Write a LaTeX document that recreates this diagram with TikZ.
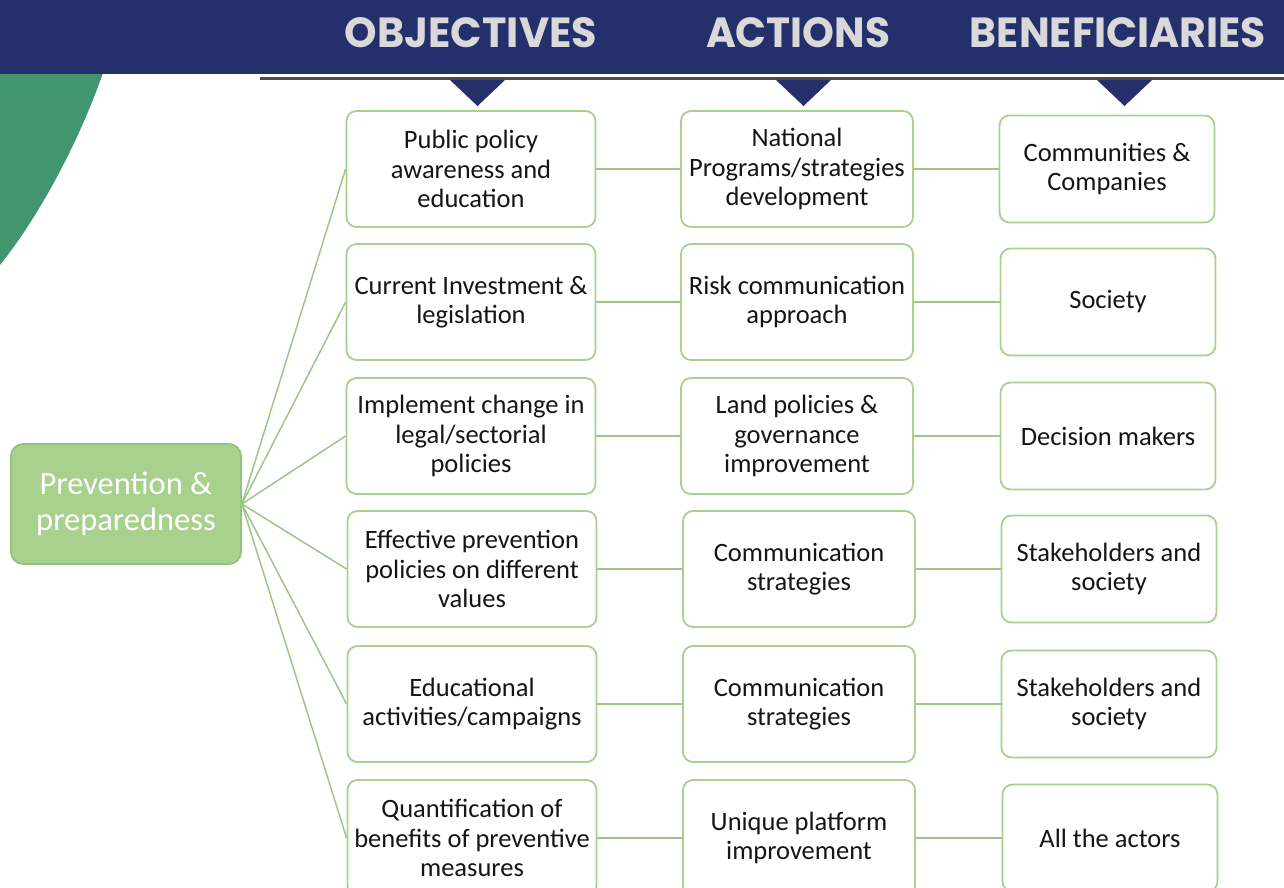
\documentclass[tikz,border=0pt]{standalone}
\usepackage{fontspec}
\setmainfont{Carlito}
\newfontfamily\hdrfont{Poppins}
\definecolor{navy}{HTML}{252F6B}
\definecolor{leaf}{HTML}{42966F}
\definecolor{boxline}{HTML}{A9D18E}
\definecolor{conn}{HTML}{9CC789}
\definecolor{rootfill}{HTML}{A9D18E}
\definecolor{rootline}{HTML}{93C47D}
\definecolor{hdrtext}{HTML}{D9D9D9}
\definecolor{rulegray}{HTML}{4D4D4D}
\definecolor{ink}{HTML}{151515}
\begin{document}
\begin{tikzpicture}[x=1pt,y=-1pt,
  box/.style={draw=boxline, line width=1.8pt, rounded corners=10pt, fill=white,
    align=center, inner sep=0pt, text=ink, font=\fontsize{26.5}{29.5}\selectfont},
  objbox/.style={box, minimum width=249pt, minimum height=116pt},
  actbox/.style={box, minimum width=232pt, minimum height=116pt},
  benbox/.style={box, minimum width=215pt, minimum height=107pt},
  rootbox/.style={draw=rootline, line width=1.8pt, rounded corners=12pt, fill=rootfill,
    align=center, inner sep=0pt, text=white, minimum width=230pt, minimum height=120pt,
    font=\fontsize{32.5}{36}\selectfont},
  hdr/.style={inner sep=0pt, text=hdrtext},
  link/.style={draw=conn, line width=1.5pt}
]
\useasboundingbox (0,0) rectangle (1284,888);
\clip (0,0) rectangle (1284,888);
% decorative background
\fill[leaf] (0,70) -- (104,70) .. controls (80,140) and (40,215) .. (0,265) -- cycle;
\fill[navy] (0,0) rectangle (1284,74);
\fill[rulegray] (260,77) rectangle (1284,80);
\fill[navy] (450,80) -- (505,80) -- (477.5,106) -- cycle;
\fill[navy] (776,80) -- (831,80) -- (803.5,106) -- cycle;
\fill[navy] (1097,80) -- (1152,80) -- (1124.5,106) -- cycle;
% headers
\node[hdr] (h1) at (471,33) {\resizebox{252pt}{30pt}{\hdrfont\bfseries OBJECTIVES}};
\node[hdr] (h2) at (798,33) {\resizebox{184pt}{30pt}{\hdrfont\bfseries ACTIONS}};
\node[hdr] (h3) at (1118,33) {\resizebox{296pt}{30pt}{\hdrfont\bfseries BENEFICIARIES}};
% root
\node[rootbox] (root) at (126,504) {Prevention \&\\preparedness};
% objectives
\node[objbox] (o1) at (471,169) {Public policy\\awareness and\\education};
\node[objbox] (o2) at (471,302) {Current Investment \&\\legislation};
\node[objbox] (o3) at (471,436) {Implement change in\\legal/sectorial\\policies};
\node[objbox] (o4) at (472,569) {Effective prevention\\policies on different\\values};
\node[objbox] (o5) at (472,704) {Educational\\activities/campaigns};
\node[objbox] (o6) at (472,838) {Quantification of\\benefits of preventive\\measures};
% actions
\node[actbox] (a1) at (797,169) {National\\Programs/strategies\\development};
\node[actbox] (a2) at (797,302) {Risk communication\\approach};
\node[actbox] (a3) at (797,436) {Land policies \&\\governance\\improvement};
\node[actbox] (a4) at (799,569) {Communication\\strategies};
\node[actbox] (a5) at (799,704) {Communication\\strategies};
\node[actbox] (a6) at (799,838) {Unique platform\\improvement};
% beneficiaries
\node[benbox] (b1) at (1107,169) {Communities \&\\Companies};
\node[benbox] (b2) at (1108,302) {Society};
\node[benbox] (b3) at (1108,436) {Decision makers};
\node[benbox] (b4) at (1109,569) {Stakeholders and\\society};
\node[benbox] (b5) at (1109,704) {Stakeholders and\\society};
\node[benbox] (b6) at (1110,838) {All the actors};
% connectors
\foreach \i in {1,...,6}{
  \draw[link] (root.east) -- (o\i.west);
  \draw[link] (o\i.east) -- (a\i.west);
  \draw[link] (a\i.east) -- (b\i.west);
}
\end{tikzpicture}
\end{document}
